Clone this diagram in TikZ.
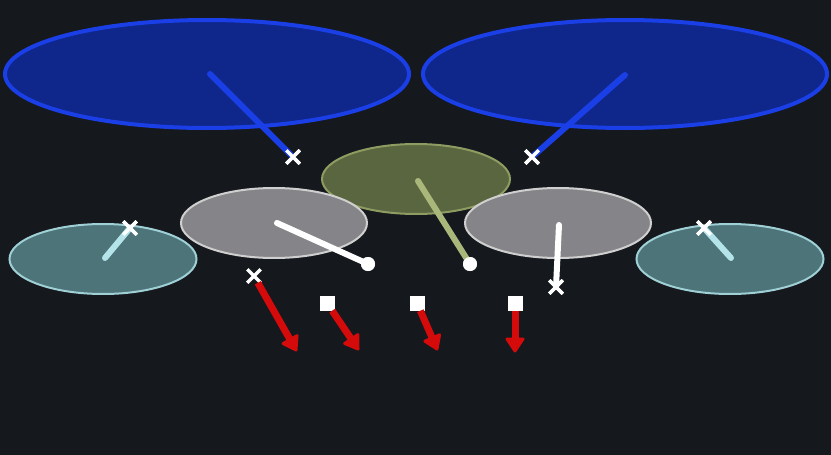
\documentclass[tikz,border=0pt]{standalone}
\usetikzlibrary{shapes.geometric,shapes.misc,arrows.meta,calc}
\definecolor{bg}{HTML}{15181D}
\definecolor{bluefill}{HTML}{0F268A}
\definecolor{bluedraw}{HTML}{1B3FE6}
\definecolor{olivefill}{HTML}{5A6640}
\definecolor{olivedraw}{HTML}{8E9C62}
\definecolor{olivestick}{HTML}{A9B87A}
\definecolor{grayfill}{HTML}{858589}
\definecolor{graydraw}{HTML}{CFCFCF}
\definecolor{tealfill}{HTML}{4D7478}
\definecolor{tealdraw}{HTML}{9FD0D6}
\definecolor{tealstick}{HTML}{B4E4EA}
\definecolor{redarrow}{HTML}{D50B0B}
\tikzset{
  disc/.style={ellipse, inner sep=0pt, minimum width=#1},
  bluedisc/.style={disc=404pt, minimum height=108pt, fill=bluefill, draw=bluedraw, line width=4pt},
  olivedisc/.style={disc=188pt, minimum height=70pt, fill=olivefill, draw=olivedraw, line width=2pt},
  graydisc/.style={disc=186pt, minimum height=70pt, fill=grayfill, draw=graydraw, line width=2pt},
  tealdisc/.style={disc=187pt, minimum height=70pt, fill=tealfill, draw=tealdraw, line width=2pt},
  xmark/.style={cross out, draw=white, line width=3.5pt, minimum size=10pt, inner sep=0pt},
  omark/.style={circle, fill=white, minimum size=14pt, inner sep=0pt},
  smark/.style={rectangle, fill=white, minimum size=15pt, inner sep=0pt},
  stick/.style={line width=6pt, line cap=round},
  redshaft/.style={draw=redarrow, line width=7pt},
  redhead/.style={fill=redarrow, draw=redarrow, line width=3pt, line join=round},
}
\begin{document}
\begin{tikzpicture}[x=1pt,y=-1pt]
\fill[bg] (0,0) rectangle (831,455);
\useasboundingbox (0,0) rectangle (831,455);
% big blue discs
\node[bluedisc] (bL) at (207,74) {};
\node[bluedisc] (bR) at (625,74) {};
% olive
\node[olivedisc] (ol) at (416,179) {};
% grays
\node[graydisc] (gL) at (274,223) {};
\node[graydisc] (gR) at (558,223) {};
% teals
\node[tealdisc] (tL) at (103,259) {};
\node[tealdisc] (tR) at (730,259) {};
% stick roots
\coordinate (bLs) at (210,74);
\coordinate (bRs) at (625,75);
\coordinate (ols) at (418,181);
\coordinate (gLs) at (277,223);
\coordinate (gRs) at (559,225);
\coordinate (tLs) at (105,258);
\coordinate (tRs) at (731,258);
% markers
\node[xmark] (xbL) at (293,157) {};
\node[xmark] (xbR) at (532,157) {};
\node[omark] (oO) at (470,264) {};
\node[omark] (oG) at (368,264) {};
\node[xmark] (xgR) at (556,287) {};
\node[xmark] (xtL) at (130,228) {};
\node[xmark] (xtR) at (704,228) {};
% sticks
\draw[stick, draw=bluedraw] (bLs) -- (xbL.center);
\draw[stick, draw=bluedraw] (bRs) -- (xbR.center);
\draw[stick, draw=olivestick] (ols) -- (oO.center);
\draw[stick, draw=white] (gLs) -- (oG.center);
\draw[stick, draw=white] (gRs) -- (xgR.center);
\draw[stick, draw=tealstick] (tLs) -- (xtL.center);
\draw[stick, draw=tealstick] (tRs) -- (xtR.center);
% redraw markers on top
\node[xmark] at (xbL) {};
\node[xmark] at (xbR) {};
\node[omark] at (oO) {};
\node[omark] at (oG) {};
\node[xmark] at (xgR) {};
\node[xmark] at (xtL) {};
\node[xmark] at (xtR) {};
% red arrows: shaft plus head
\node[xmark] (r1) at (254,276) {};
\node[smark] (r2) at (327,303) {};
\node[smark] (r3) at (417,303) {};
\node[smark] (r4) at (515,303) {};
\coordinate (e1) at (296,350);
\coordinate (e2) at (358,349);
\coordinate (e3) at (437,349);
\coordinate (e4) at (515,351);
\foreach \s/\e in {r1/e1, r2/e2, r3/e3, r4/e4}{
  \draw[redshaft] (\s) -- ($(\e)!10pt!(\s.center)$);
  \path[redhead] (\e) -- ($($(\e)!12pt!(\s.center)$)!8pt!90:(\e)$) -- ($($(\e)!12pt!(\s.center)$)!8pt!-90:(\e)$) -- cycle;
}
\end{tikzpicture}
\end{document}
